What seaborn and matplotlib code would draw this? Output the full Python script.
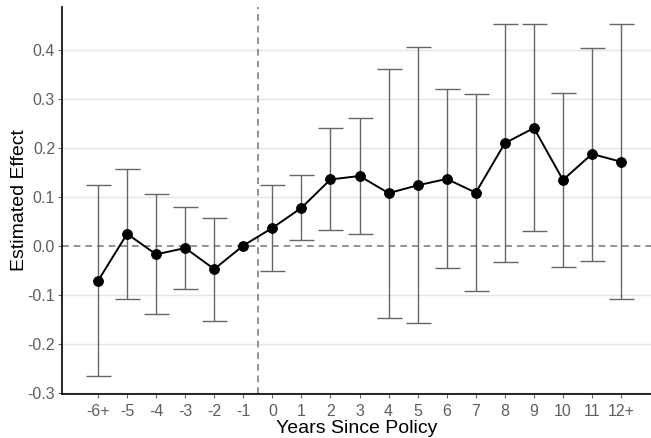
import matplotlib
matplotlib.use("Agg")
import matplotlib.pyplot as plt
import seaborn as sns
import pandas as pd
import numpy as np

categories = ["-6+", "-5", "-4", "-3", "-2", "-1", "0", "1", "2", "3", "4",
              "5", "6", "7", "8", "9", "10", "11", "12+"]
estimate = [-0.072, 0.024, -0.018, -0.005, -0.048, 0.0, 0.036, 0.077, 0.135,
            0.142, 0.107, 0.123, 0.136, 0.108, 0.209, 0.240, 0.134, 0.187, 0.171]
upper = [0.123, 0.157, 0.105, 0.079, 0.056, np.nan, 0.124, 0.145, 0.240,
         0.261, 0.360, 0.406, 0.320, 0.309, 0.453, 0.452, 0.311, 0.404, 0.453]
lower = [-0.266, -0.109, -0.140, -0.089, -0.153, np.nan, -0.052, 0.011, 0.032,
         0.023, -0.147, -0.158, -0.046, -0.093, -0.034, 0.029, -0.044, -0.031, -0.109]
yticks = [-0.3, -0.2, -0.1, 0.0, 0.1, 0.2, 0.3, 0.4]

df = pd.DataFrame({"cat": categories, "est": estimate, "lo": lower, "hi": upper})
df["pos"] = np.arange(len(df))

sns.set_theme(style="white")
plt.rcParams["font.family"] = ["Liberation Sans", "DejaVu Sans"]
plt.rcParams["axes.unicode_minus"] = False

fig = plt.figure(figsize=(6.51, 4.38), dpi=100)
ax = fig.add_axes([62 / 651, 1 - 394 / 438, 1 - 62 / 651, (394 - 7) / 438])

for y in yticks:
    if y != 0:
        ax.axhline(y, color="#dbe8ee", lw=1, zorder=0)

ax.axhline(0, color="#808080", lw=1.2, ls=(0, (4, 3)), zorder=1)
ax.axvline(5.5, color="#808080", lw=1.2, ls=(0, (4, 3)), zorder=1)

eb = df.dropna()
ax.errorbar(eb["pos"], eb["est"],
            yerr=[eb["est"] - eb["lo"], eb["hi"] - eb["est"]],
            fmt="none", ecolor="#666666", elinewidth=1.0, capsize=9,
            capthick=1.0, zorder=2)

sns.lineplot(data=df, x="pos", y="est", color="black", lw=1.4, marker="o",
             markersize=7, markeredgecolor="black", ax=ax, zorder=3)

ax.set_xticks(df["pos"])
ax.set_xticklabels(categories)
ax.set_yticks(yticks)
ax.set_yticklabels([f"{v:.1f}" for v in yticks])
ax.set_xlim(-1.24, 19.03)
ax.set_ylim(-0.303, 0.487)

ax.tick_params(axis="both", colors="#666666", labelsize=11.5, length=3,
               width=0.8, direction="out", bottom=True, left=True)
ax.tick_params(axis="x", pad=4)
ax.tick_params(axis="y", pad=2)
for lab in ax.get_xticklabels() + ax.get_yticklabels():
    lab.set_color("#5e5e5e")

ax.set_xlabel("Years Since Policy", fontsize=14, color="black", labelpad=1)
ax.set_ylabel("Estimated Effect", fontsize=14, color="black")
ax.yaxis.set_label_coords(-0.057, 0.5)

for s in ["top", "right"]:
    ax.spines[s].set_visible(False)
for s in ["left", "bottom"]:
    ax.spines[s].set_color("black")
    ax.spines[s].set_linewidth(1.2)

fig.savefig("out.png", dpi=100)
